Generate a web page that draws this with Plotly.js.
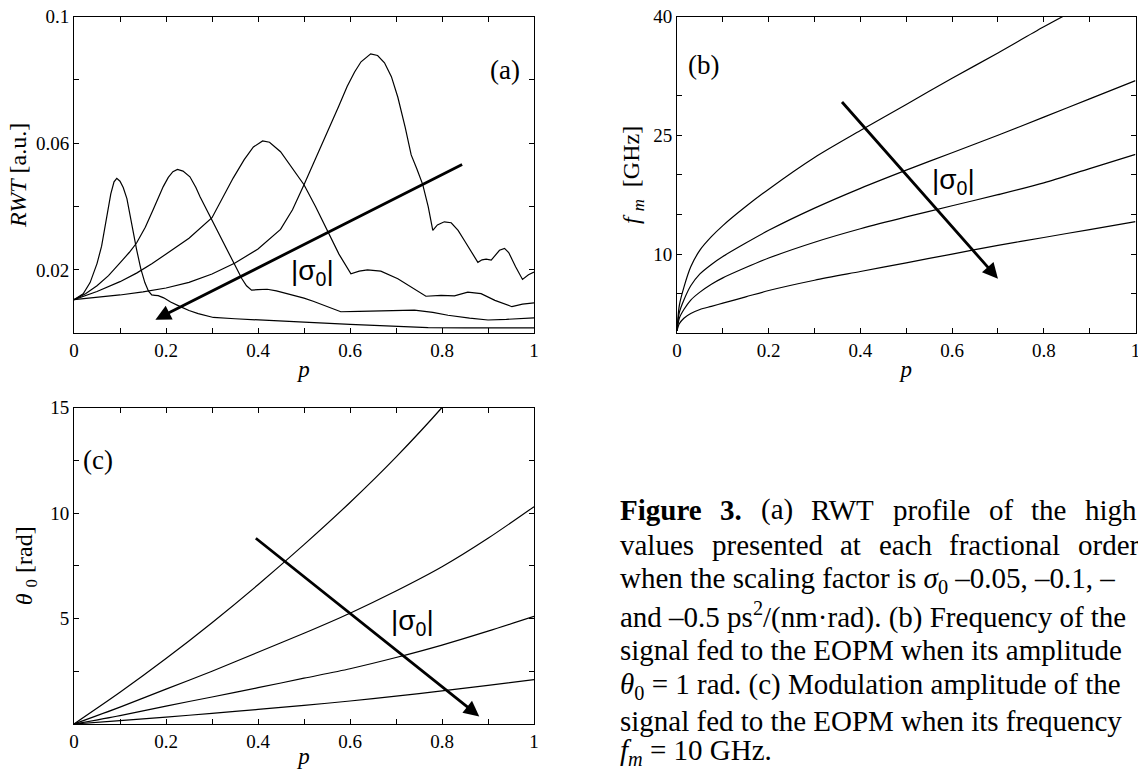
<!DOCTYPE html>
<html>
<head>
<meta charset="utf-8">
<script src="https://cdn.plot.ly/plotly-3.0.1.min.js"></script>
<style>html,body{margin:0;padding:0;background:#fff;}#chart{width:1138px;height:769px;}</style>
</head>
<body>
<div id="chart"></div>
<script>
// ---------- Panel (a): RWT profiles ----------
const pA_s05 = [0, 0.02, 0.035, 0.05, 0.06, 0.07, 0.08, 0.087, 0.093, 0.1, 0.107, 0.115, 0.122, 0.13, 0.136, 0.145, 0.154, 0.162, 0.169, 0.176, 0.183, 0.195, 0.21, 0.23, 0.25, 0.27, 0.29, 0.303, 0.35, 0.4, 0.5, 0.6, 0.7, 0.77, 0.85, 1.0];
const rwt_s05 = [0.0106, 0.0125, 0.016, 0.022, 0.0275, 0.036, 0.044, 0.0478, 0.0489, 0.048, 0.046, 0.0425, 0.0369, 0.031, 0.0265, 0.0205, 0.016, 0.0133, 0.0121, 0.012, 0.0119, 0.0112, 0.0099, 0.0085, 0.0072, 0.0062, 0.0054, 0.005, 0.0046, 0.0043, 0.0035, 0.0028, 0.0022, 0.0018, 0.0017, 0.0017];

const pA_s02 = [0, 0.025, 0.05, 0.075, 0.1, 0.12, 0.136, 0.155, 0.172, 0.185, 0.194, 0.205, 0.215, 0.225, 0.237, 0.252, 0.265, 0.274, 0.285, 0.296, 0.31, 0.325, 0.34, 0.354, 0.365, 0.375, 0.386, 0.4, 0.42, 0.44, 0.46, 0.48, 0.5, 0.52, 0.55, 0.58, 0.62, 0.667, 0.7, 0.74, 0.78, 0.813, 0.86, 0.9, 0.94, 1.0];
const rwt_s02 = [0.0106, 0.0125, 0.015, 0.0182, 0.0222, 0.0255, 0.0285, 0.0335, 0.039, 0.0435, 0.0463, 0.0492, 0.051, 0.0517, 0.0512, 0.0494, 0.046, 0.0431, 0.04, 0.0369, 0.0328, 0.0285, 0.0243, 0.0202, 0.0172, 0.015, 0.0136, 0.0138, 0.0139, 0.0134, 0.0127, 0.0119, 0.0111, 0.0101, 0.0085, 0.0068, 0.0069, 0.0071, 0.0073, 0.0073, 0.0066, 0.0057, 0.0048, 0.0042, 0.0044, 0.0049];

const pA_s01 = [0, 0.05, 0.1, 0.136, 0.17, 0.2, 0.25, 0.3, 0.32, 0.346, 0.37, 0.39, 0.41, 0.425, 0.449, 0.475, 0.5, 0.525, 0.551, 0.576, 0.602, 0.62, 0.638, 0.667, 0.704, 0.74, 0.765, 0.798, 0.827, 0.856, 0.885, 0.915, 0.94, 0.952, 0.975, 1.0];
const rwt_s01 = [0.0106, 0.0132, 0.0163, 0.019, 0.022, 0.025, 0.03, 0.0365, 0.042, 0.049, 0.0548, 0.0588, 0.0607, 0.0603, 0.0573, 0.052, 0.0469, 0.04, 0.0323, 0.025, 0.0188, 0.0196, 0.02, 0.0196, 0.0172, 0.0141, 0.0117, 0.012, 0.0118, 0.013, 0.0125, 0.0104, 0.0089, 0.0084, 0.0092, 0.0096];

const pA_s005 = [0, 0.05, 0.1, 0.15, 0.2, 0.25, 0.3, 0.35, 0.4, 0.449, 0.475, 0.5, 0.525, 0.551, 0.575, 0.594, 0.61, 0.624, 0.645, 0.66, 0.675, 0.69, 0.704, 0.72, 0.733, 0.745, 0.758, 0.77, 0.78, 0.79, 0.805, 0.82, 0.835, 0.849, 0.865, 0.878, 0.887, 0.896, 0.907, 0.915, 0.925, 0.936, 0.945, 0.96, 0.975, 0.988, 1.0];
const rwt_s005 = [0.0106, 0.0113, 0.0121, 0.0131, 0.0143, 0.0161, 0.0187, 0.0222, 0.0266, 0.0328, 0.039, 0.0469, 0.055, 0.0635, 0.0715, 0.078, 0.0825, 0.0857, 0.0882, 0.0877, 0.0854, 0.081, 0.0745, 0.065, 0.0563, 0.052, 0.047, 0.04, 0.0325, 0.0342, 0.0352, 0.0349, 0.0325, 0.0292, 0.0255, 0.0224, 0.0232, 0.0234, 0.0231, 0.0245, 0.0262, 0.0268, 0.0255, 0.021, 0.017, 0.0185, 0.0193];

// ---------- Panel (b): modulation frequency ----------
const pB = [0, 0.005, 0.015, 0.03, 0.05, 0.075, 0.1, 0.15, 0.2, 0.3, 0.4, 0.5, 0.6, 0.7, 0.8, 0.9, 1.0];
const fm_s005 = [0.3, 3.5, 5.8, 8.4, 10.5, 12.2, 13.6, 16.0, 18.2, 22.2, 25.6, 28.9, 32.2, 35.4, 38.7, 41.8, 44.8];
const fm_s01 = [0.3, 2.6, 4.2, 6.0, 7.5, 8.7, 9.7, 11.4, 13.0, 15.8, 18.3, 20.6, 22.8, 25.0, 27.3, 29.6, 31.9];
const fm_s02 = [0.3, 1.9, 3.0, 4.2, 5.2, 6.2, 7.0, 8.3, 9.5, 11.5, 13.2, 14.7, 16.1, 17.5, 19.0, 20.8, 22.6];
const fm_s05 = [0.3, 1.2, 1.9, 2.5, 3.0, 3.4, 3.8, 4.6, 5.4, 6.7, 7.8, 8.9, 10.0, 11.1, 12.1, 13.1, 14.1];

// ---------- Panel (c): modulation amplitude ----------
const pC = [0, 0.1, 0.2, 0.3, 0.4, 0.5, 0.6, 0.7, 0.8, 0.9, 1.0];
const th_s005 = [0, 1.5, 3.1, 4.8, 6.6, 8.5, 10.5, 12.65, 15.0, 17.6, 20.4];
const th_s01 = [0, 0.8, 1.65, 2.5, 3.4, 4.3, 5.25, 6.3, 7.45, 8.8, 10.3];
const th_s02 = [0, 0.4, 0.85, 1.28, 1.72, 2.17, 2.62, 3.15, 3.74, 4.4, 5.1];
const th_s05 = [0, 0.16, 0.33, 0.5, 0.69, 0.88, 1.09, 1.32, 1.57, 1.83, 2.1];

// ---------- Tick labels ----------
const xTickVals = [0, 0.2, 0.4, 0.6, 0.8, 1];
const xTickText = ['0', '0.2', '0.4', '0.6', '0.8', '1'];
const xMinorVals = [0.1, 0.3, 0.5, 0.7, 0.9];
const yTickValsA = [0.02, 0.06, 0.1];
const yTickTextA = ['0.02', '0.06', '0.1'];
const yMinorA = [0.04, 0.08];
const yTickValsB = [10, 25, 40];
const yTickTextB = ['10', '25', '40'];
const yMinorB = [5, 15, 20, 30];
const yTickValsC = [5, 10, 15];
const yTickTextC = ['5', '10', '15'];
const yMinorC = [2.5, 7.5, 12.5];

const captionLine1 = [['Figure', true], ['3.', true], ['(a)', false], ['RWT', false], ['profile', false], ['of', false], ['the', false], ['high', false]];
const captionLine2 = [['values', false], ['presented', false], ['at', false], ['each', false], ['fractional', false], ['order', false]];
const captionLines = [
  'when the scaling factor is <i>σ</i><sub>0</sub> –0.05, –0.1, –',
  'and –0.5 ps<sup>2</sup>/(nm·rad). (b) Frequency of the',
  'signal fed to the EOPM when its amplitude',
  '<i>θ</i><sub>0</sub> = 1 rad. (c) Modulation amplitude of the',
  'signal fed to the EOPM when its frequency',
  '<i>f<sub>m</sub></i> = 10 GHz.'
];

// ---------- Build ----------
const W = 1138, H = 769;
const serif = 'Liberation Serif, Times New Roman, serif';
const sans = 'Liberation Sans, Arial, sans-serif';
const lineStyle = {color: '#000', width: 1.2};

function tr(x, y, xa, ya, smooth) {
  const ln = Object.assign({}, lineStyle);
  if (smooth) { ln.shape = 'spline'; ln.smoothing = 0.8; }
  return {x: x, y: y, xaxis: xa, yaxis: ya, type: 'scatter', mode: 'lines', line: ln, hoverinfo: 'skip', showlegend: false, cliponaxis: true};
}
const data = [
  tr(pA_s05, rwt_s05, 'x', 'y'), tr(pA_s02, rwt_s02, 'x', 'y'),
  tr(pA_s01, rwt_s01, 'x', 'y'), tr(pA_s005, rwt_s005, 'x', 'y'),
  tr(pB, fm_s005, 'x2', 'y2', true), tr(pB, fm_s01, 'x2', 'y2', true),
  tr(pB, fm_s02, 'x2', 'y2', true), tr(pB, fm_s05, 'x2', 'y2', true),
  tr(pC, th_s005, 'x3', 'y3', true), tr(pC, th_s01, 'x3', 'y3', true),
  tr(pC, th_s02, 'x3', 'y3', true), tr(pC, th_s05, 'x3', 'y3', true)
];

function ax(extra, minorVals) {
  return Object.assign({
    showline: true, linecolor: '#000', linewidth: 1, mirror: 'ticks',
    ticks: 'inside', ticklen: 5, tickwidth: 1, tickcolor: '#000',
    showgrid: false, zeroline: false, automargin: false, fixedrange: true,
    ticklabeloverflow: 'allow',
    tickfont: {family: serif, size: 19, color: '#000'},
    minor: {tickmode: 'array', tickvals: minorVals, ticks: 'inside', ticklen: 5, tickwidth: 1, tickcolor: '#000', showgrid: false}
  }, extra);
}
const px = v => v / W;
const py = v => 1 - v / H;

const xDomL = [px(74), px(534)];
const xDomR = [px(677), px(1135.5)];
const yDomTop = [py(333.3), py(16.5)];
const yDomBot = [py(724), py(407.5)];

const xTitle = {text: '<i>p</i>', font: {family: serif, size: 23, color: '#000'}, standoff: 0};
const yFont = {family: serif, size: 24, color: '#000'};

const layout = {
  width: W, height: H,
  margin: {l: 0, r: 0, t: 0, b: 0},
  paper_bgcolor: '#fff', plot_bgcolor: '#fff',
  showlegend: false,
  xaxis: ax({domain: xDomL, anchor: 'y', range: [0, 1], tickmode: 'array', tickvals: xTickVals, ticktext: xTickText, title: xTitle}, xMinorVals),
  yaxis: ax({domain: yDomTop, anchor: 'x', range: [0, 0.1], tickmode: 'array', tickvals: yTickValsA, ticktext: yTickTextA,
    title: {text: '<i>RWT</i> [a.u.]', font: yFont, standoff: 2}}, yMinorA),
  xaxis2: ax({domain: xDomR, anchor: 'y2', range: [0, 1], tickmode: 'array', tickvals: xTickVals, ticktext: xTickText, title: xTitle}, xMinorVals),
  yaxis2: ax({domain: yDomTop, anchor: 'x2', range: [0, 40], tickmode: 'array', tickvals: yTickValsB, ticktext: yTickTextB,
    title: {text: '<i>f</i> <sub><i>m</i></sub>  [GHz]', font: yFont, standoff: 6}}, yMinorB),
  xaxis3: ax({domain: xDomL, anchor: 'y3', range: [0, 1], tickmode: 'array', tickvals: xTickVals, ticktext: xTickText, title: xTitle}, xMinorVals),
  yaxis3: ax({domain: yDomBot, anchor: 'x3', range: [0, 15], tickmode: 'array', tickvals: yTickValsC, ticktext: yTickTextC,
    title: {text: '<i>θ</i> <sub>0</sub> [rad]', font: yFont, standoff: 10}}, yMinorC),
  annotations: []
};

const A = layout.annotations;
function arrow(xr, yr, hx, hy, tx, ty) {
  A.push({xref: xr, yref: yr, axref: xr, ayref: yr, x: hx, y: hy, ax: tx, ay: ty, text: '',
    showarrow: true, arrowhead: 2, arrowsize: 1.1, arrowwidth: 2.8, arrowcolor: '#000', standoff: 0, startstandoff: 0});
}
function label(xr, yr, x, y, text, font, size) {
  A.push({xref: xr, yref: yr, x: x, y: y, text: text, showarrow: false, xanchor: 'center', yanchor: 'middle',
    font: {family: font, size: size, color: '#000'}});
}
// panel (a)
arrow('x', 'y', 0.177, 0.0043, 0.847, 0.0535);
label('x', 'y', 0.518, 0.0193, '|σ<sub>0</sub>|', sans, 28);
label('x', 'y', 0.936, 0.083, '(a)', serif, 27);
// panel (b)
arrow('x2', 'y2', 0.70, 6.9, 0.357, 29.4);
label('x2', 'y2', 0.602, 19.2, '|σ<sub>0</sub>|', sans, 28);
label('x2', 'y2', 0.057, 33.9, '(b)', serif, 27);
// panel (c)
arrow('x3', 'y3', 0.881, 0.36, 0.392, 8.86);
label('x3', 'y3', 0.735, 4.8, '|σ<sub>0</sub>|', sans, 28);
label('x3', 'y3', 0.052, 12.5, '(c)', serif, 27);

// caption (justified first two lines, word widths measured with the same font)
const capSize = 29;
const capFont = {family: serif, size: capSize, color: '#000'};
const cv = document.createElement('canvas').getContext('2d');
function wordWidth(w, bold) {
  cv.font = (bold ? 'bold ' : '') + capSize + 'px "Liberation Serif", "Times New Roman", serif';
  return cv.measureText(w).width;
}
const capLeft = 619;
const lineY = [510, 545, 580, 615, 650, 686, 721, 752];
function justify(words, right, yPix) {
  const widths = words.map(w => wordWidth(w[0], w[1]));
  const total = widths.reduce((s, v) => s + v, 0);
  const gap = (right - capLeft - total) / (words.length - 1);
  let x = capLeft;
  words.forEach((w, i) => {
    A.push({xref: 'paper', yref: 'paper', x: px(x), y: py(yPix), text: w[1] ? '<b>' + w[0] + '</b>' : w[0],
      showarrow: false, xanchor: 'left', yanchor: 'middle', font: capFont, borderpad: 0});
    x += widths[i] + gap;
  });
}
justify(captionLine1, 1136, lineY[0]);
justify(captionLine2, 1138, lineY[1]);
captionLines.forEach((t, i) => A.push({xref: 'paper', yref: 'paper', x: px(capLeft), y: py(lineY[i + 2]), text: t,
  showarrow: false, xanchor: 'left', yanchor: 'middle', align: 'left', font: capFont, borderpad: 0}));

Plotly.newPlot('chart', data, layout, {staticPlot: true, displayModeBar: false});
</script>
</body>
</html>
